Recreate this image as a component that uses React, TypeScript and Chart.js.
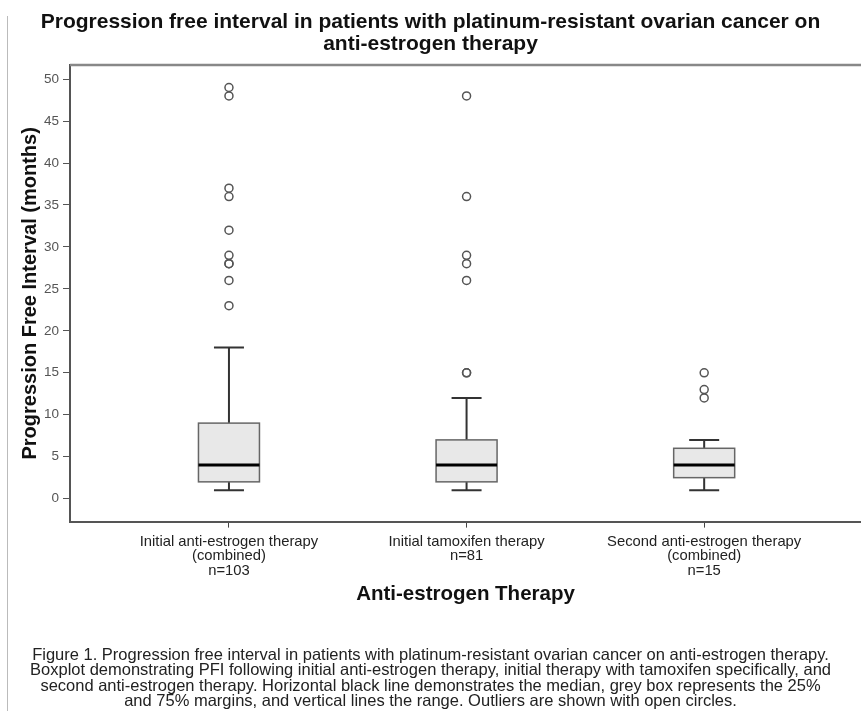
import React, { useEffect, useRef } from 'react';
import { Chart, registerables } from 'chart.js';

Chart.register(...registerables);

// ---------- data ----------
const categories: string[][] = [
  ['Initial anti-estrogen therapy', '(combined)', 'n=103'],
  ['Initial tamoxifen therapy', 'n=81'],
  ['Second anti-estrogen therapy', '(combined)', 'n=15'],
];
const whiskerLow = [1, 1, 1];
const quartile1 = [2, 2, 2.5];
const medians = [4, 4, 4];
const quartile3 = [9, 7, 6];
const whiskerHigh = [18, 12, 7];
const outliersInitial = [49, 48, 37, 36, 32, 29, 28, 28, 26, 23];
const outliersTamoxifen = [48, 36, 29, 28, 26, 15, 15];
const outliersSecond = [15, 13, 12];
const yTicks = [0, 5, 10, 15, 20, 25, 30, 35, 40, 45, 50];

const titleLines = [
  'Progression free interval in patients with platinum-resistant ovarian cancer on',
  'anti-estrogen therapy',
];
const captionLines = [
  'Figure 1. Progression free interval in patients with platinum-resistant ovarian cancer on anti-estrogen therapy.',
  'Boxplot demonstrating PFI following initial anti-estrogen therapy, initial therapy with tamoxifen specifically, and',
  'second anti-estrogen therapy. Horizontal black line demonstrates the median, grey box represents the 25%',
  'and 75% margins, and vertical lines the range. Outliers are shown with open circles.',
];

const FONT = "'Liberation Sans', Arial, sans-serif";

const boxPlugin = {
  id: 'boxPlugin',
  beforeDatasetsDraw(chart: any) {
    const { ctx, scales } = chart;
    const x = scales.x;
    const y = scales.y;
    const halfBox = 30.5;
    const halfCap = 15;
    ctx.save();
    categories.forEach((_, i) => {
      const cx = x.getPixelForValue(i + 1);
      const yLo = y.getPixelForValue(whiskerLow[i]);
      const yQ1 = y.getPixelForValue(quartile1[i]);
      const yMed = y.getPixelForValue(medians[i]);
      const yQ3 = y.getPixelForValue(quartile3[i]);
      const yHi = y.getPixelForValue(whiskerHigh[i]);
      ctx.strokeStyle = '#333';
      ctx.lineWidth = 2;
      ctx.beginPath();
      ctx.moveTo(cx, yQ3);
      ctx.lineTo(cx, yHi);
      ctx.moveTo(cx - halfCap, yHi);
      ctx.lineTo(cx + halfCap, yHi);
      ctx.moveTo(cx, yQ1);
      ctx.lineTo(cx, yLo);
      ctx.moveTo(cx - halfCap, yLo);
      ctx.lineTo(cx + halfCap, yLo);
      ctx.stroke();
      ctx.fillStyle = '#e8e8e8';
      ctx.fillRect(cx - halfBox, yQ3, halfBox * 2, yQ1 - yQ3);
      ctx.strokeStyle = '#666';
      ctx.lineWidth = 1.5;
      ctx.strokeRect(cx - halfBox, yQ3, halfBox * 2, yQ1 - yQ3);
      ctx.strokeStyle = '#000';
      ctx.lineWidth = 3;
      ctx.beginPath();
      ctx.moveTo(cx - halfBox, yMed);
      ctx.lineTo(cx + halfBox, yMed);
      ctx.stroke();
    });
    ctx.restore();
  },
  afterDraw(chart: any) {
    const { ctx, chartArea } = chart;
    ctx.save();
    ctx.strokeStyle = '#888';
    ctx.lineWidth = 2.5;
    ctx.beginPath();
    ctx.moveTo(chartArea.left, chartArea.top);
    ctx.lineTo(chartArea.right, chartArea.top);
    ctx.stroke();
    ctx.restore();
  },
};

export default function App() {
  const ref = useRef<HTMLCanvasElement>(null);
  useEffect(() => {
    if (!ref.current) return;
    const mk = (vals: number[], idx: number) => vals.map((v) => ({ x: idx, y: v }));
    const chart = new Chart(ref.current, {
      type: 'scatter',
      data: {
        datasets: [
          { data: mk(outliersInitial, 1) },
          { data: mk(outliersTamoxifen, 2) },
          { data: mk(outliersSecond, 3) },
        ].map((d) => ({
          ...d,
          pointStyle: 'circle',
          pointRadius: 4,
          pointBorderWidth: 1.5,
          pointBorderColor: '#555',
          pointBackgroundColor: 'rgba(0,0,0,0)',
        })) as any,
      },
      options: {
        animation: false,
        responsive: false,
        devicePixelRatio: 1,
        layout: { padding: 0, autoPadding: false },
        plugins: {
          legend: { display: false },
          tooltip: { enabled: false },
          title: {
            display: true,
            text: titleLines,
            font: { family: FONT, size: 21, weight: 'bold', lineHeight: 1.05 },
            color: '#111',
            padding: { top: 11, bottom: 10 },
          },
          subtitle: {
            display: true,
            position: 'bottom',
            text: captionLines,
            font: { family: FONT, size: 16.5, weight: 'normal', lineHeight: 0.93 },
            color: '#222',
            padding: { top: 0, bottom: 2 },
          },
        },
        scales: {
          x: {
            type: 'linear',
            min: 0.331,
            max: 3.66,
            afterBuildTicks: (s: any) => {
              s.ticks = categories.map((_, i) => ({ value: i + 1 }));
            },
            afterFit: (s: any) => {
              s.height = 126;
              s.paddingLeft = 0;
              s.paddingRight = 0;
            },
            ticks: {
              callback: (v: any) => categories[Number(v) - 1] ?? '',
              font: { family: FONT, size: 14.8, lineHeight: 0.98 },
              color: '#222',
              padding: 7,
              maxRotation: 0,
              autoSkip: false,
            },
            grid: {
              display: true,
              drawOnChartArea: false,
              drawTicks: true,
              tickLength: 6,
              color: '#444',
              lineWidth: 1,
            },
            border: { display: true, color: '#555', width: 2 },
            title: {
              display: true,
              text: 'Anti-estrogen Therapy',
              font: { family: FONT, size: 20.5, weight: 'bold' },
              color: '#111',
              padding: { top: 0, bottom: 41 },
            },
          },
          y: {
            type: 'linear',
            min: -2.74,
            max: 51.67,
            afterBuildTicks: (s: any) => {
              s.ticks = yTicks.map((v) => ({ value: v }));
            },
            afterFit: (s: any) => {
              s.width = 70;
            },
            ticks: {
              font: { family: FONT, size: 13.5 },
              color: '#555',
              padding: 4,
            },
            grid: {
              display: true,
              drawOnChartArea: false,
              drawTicks: true,
              tickLength: 7,
              color: '#555',
              lineWidth: 1,
            },
            border: { display: true, color: '#555', width: 2 },
            title: {
              display: true,
              text: 'Progression Free Interval (months)',
              font: { family: FONT, size: 20, weight: 'bold' },
              color: '#111',
              padding: { top: 18, bottom: 0 },
            },
          },
        },
      },
      plugins: [boxPlugin],
    });
    return () => chart.destroy();
  }, []);

  return (
    <div style={{ position: 'fixed', left: 0, top: 0, width: 861, height: 711, background: '#fff' }}>
      <div style={{ position: 'absolute', left: 7, top: 16, width: 1, height: 695, background: '#bbb' }} />
      <canvas ref={ref} width={861} height={711} style={{ position: 'absolute', left: 0, top: 0 }} />
    </div>
  );
}
